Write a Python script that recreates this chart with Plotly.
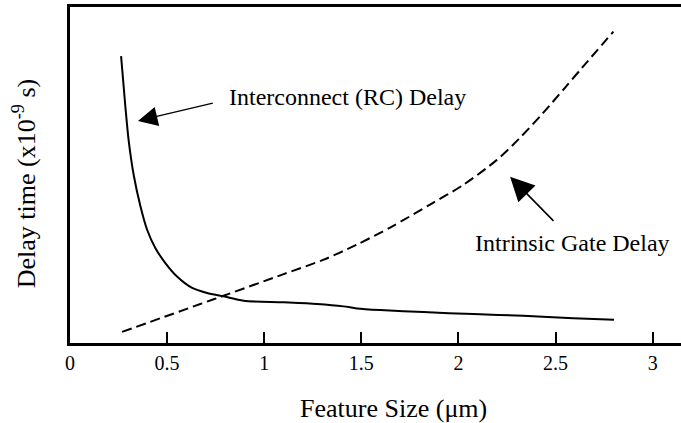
import plotly.graph_objects as go

# Feature size (um) and relative delay (arbitrary units, x1e-9 s scale)
rc_size = [0.263, 0.285, 0.302, 0.328, 0.363, 0.397, 0.440, 0.491, 0.551, 0.629,
           0.706, 0.791, 0.894, 1.100, 1.272, 1.408, 1.477, 1.597, 1.820, 2.077,
           2.334, 2.592, 2.801]
rc_delay = [8.54, 7.04, 6.03, 5.00, 4.06, 3.37, 2.82, 2.38, 1.98, 1.64,
            1.49, 1.39, 1.26, 1.21, 1.16, 1.09, 1.03, 0.98, 0.92, 0.86,
            0.81, 0.74, 0.69]

gate_size = [0.268, 0.671, 0.783, 1.100, 1.306, 1.474, 1.653, 1.854, 2.026,
             2.198, 2.309, 2.435, 2.546, 2.635, 2.798]
gate_delay = [0.33, 1.16, 1.39, 2.05, 2.48, 2.92, 3.45, 4.12, 4.71,
              5.45, 6.06, 6.84, 7.58, 8.18, 9.27]

x_ticks = [0, 0.5, 1, 1.5, 2, 2.5, 3]
x_tick_labels = ["0", "0.5", "1", "1.5", "2", "2.5", "3"]

FONT = "Liberation Serif"

fig = go.Figure()
fig.add_trace(go.Scatter(x=rc_size, y=rc_delay, mode="lines", line_shape="spline",
                         line=dict(color="black", width=2, smoothing=0.8),
                         name="Interconnect (RC) Delay"))
fig.add_trace(go.Scatter(x=gate_size, y=gate_delay, mode="lines", line_shape="spline",
                         line=dict(color="black", width=2, dash="10px,5px", smoothing=0.8),
                         name="Intrinsic Gate Delay"))

# Arrows pointing at each curve
fig.add_annotation(x=0.35, y=6.61, ax=0.743, ay=7.15, xref="x", yref="y",
                   axref="x", ayref="y", text="", showarrow=True,
                   arrowhead=2, arrowsize=3, arrowwidth=1.3, arrowcolor="black",
                   standoff=0, startstandoff=0)
fig.add_annotation(x=2.266, y=4.95, ax=2.497, ay=3.59, xref="x", yref="y",
                   axref="x", ayref="y", text="", showarrow=True,
                   arrowhead=2, arrowsize=3, arrowwidth=1.6, arrowcolor="black",
                   standoff=0, startstandoff=0)

# Curve labels
fig.add_annotation(x=0.81, y=7.33, xref="x", yref="y", text="Interconnect (RC) Delay",
                   showarrow=False, xanchor="left", yanchor="middle",
                   font=dict(family=FONT, size=24, color="black"))
fig.add_annotation(x=2.076, y=2.98, xref="x", yref="y", text="Intrinsic Gate Delay",
                   showarrow=False, xanchor="left", yanchor="middle",
                   font=dict(family=FONT, size=24, color="black"))

# Axis titles
fig.add_annotation(x=-0.0745, y=0.474, xref="paper", yref="paper",
                   text="Delay time (x10<sup>-9</sup> s)", textangle=-90,
                   showarrow=False, xanchor="center", yanchor="middle",
                   font=dict(family=FONT, size=26, color="black"))
fig.add_annotation(x=0.529, y=-0.195, xref="paper", yref="paper",
                   text="Feature Size (μm)",
                   showarrow=False, xanchor="center", yanchor="middle",
                   font=dict(family=FONT, size=26, color="black"))

fig.update_layout(
    width=681, height=423,
    margin=dict(l=70, r=0, t=7, b=80),
    paper_bgcolor="white", plot_bgcolor="white",
    showlegend=False,
    font=dict(family=FONT, color="black"),
    xaxis=dict(range=[0, 3.146], tickvals=x_ticks, ticktext=x_tick_labels,
               ticks="inside", ticklen=11, tickwidth=2, tickcolor="black",
               showline=True, linecolor="black", linewidth=2.5, mirror=True,
               showgrid=False, zeroline=False,
               tickfont=dict(family=FONT, size=20, color="black")),
    yaxis=dict(range=[0, 10], showticklabels=False, ticks="",
               showline=True, linecolor="black", linewidth=2.5, mirror=False,
               showgrid=False, zeroline=False),
)

fig.write_html("out.html")
